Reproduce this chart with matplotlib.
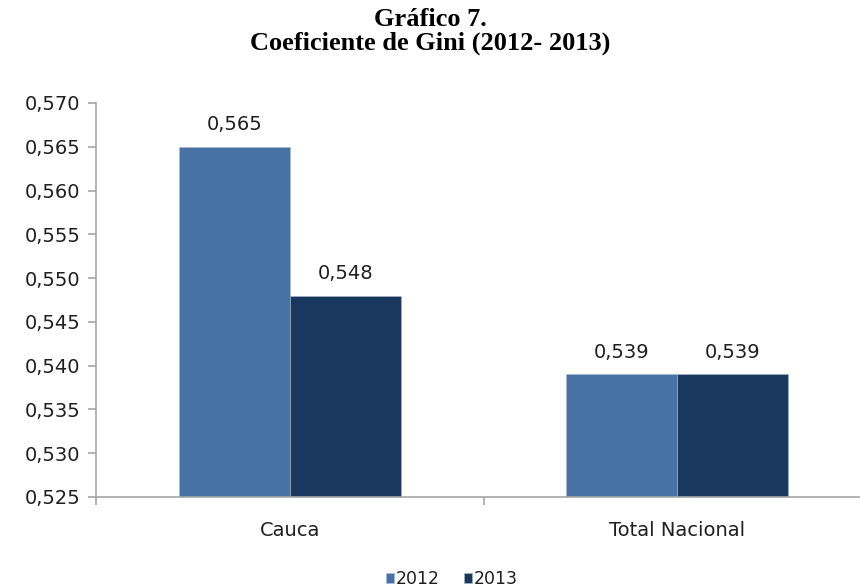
import numpy as np
from matplotlib import pyplot as plt
from matplotlib.patches import Patch

categories = ['Cauca', 'Total Nacional']
years = ['2012', '2013']
gini_2012 = [0.565, 0.539]
gini_2013 = [0.548, 0.539]
y_ticks = [0.525, 0.530, 0.535, 0.540, 0.545, 0.550, 0.555, 0.560, 0.565, 0.570]

colors = ['#4672a5', '#1a375e']
font = 'DejaVu Sans'
txt_color = '#1f1f1f'


def coma(v):
    return f'{v:.3f}'.replace('.', ',')


fig = plt.figure(figsize=(8.6, 5.88), dpi=100)
# plot area: x 96 -> ~871 px (runs a bit past the right edge), y 103 -> 497 px
ax = fig.add_axes([96 / 860, 1 - 497 / 588, 775 / 860, 394 / 588])

x = np.arange(len(categories))
w = 0.286
series = [gini_2012, gini_2013]
for i, vals in enumerate(series):
    pos = x + (i - 0.5) * w
    ax.bar(pos, np.array(vals) - y_ticks[0], bottom=y_ticks[0], width=w,
           color=colors[i], edgecolor='#a9b8cc', linewidth=0.4, zorder=2)
    for px, v in zip(pos, vals):
        ax.text(px, v + 0.0019, coma(v), ha='center', va='baseline',
                fontsize=14, family=font, color=txt_color)

ax.set_xlim(-0.5, len(categories) - 0.5)
ax.set_ylim(y_ticks[0], y_ticks[-1])
ax.set_yticks(y_ticks)
ax.set_yticklabels([coma(t) for t in y_ticks], family=font, fontsize=14, color=txt_color)
ax.set_xticks(x)
ax.set_xticklabels(categories, family=font, fontsize=14, color=txt_color)
ax.tick_params(axis='x', which='major', length=0, pad=17)
ax.set_xticks(np.arange(-0.5, len(categories)), minor=True)
ax.tick_params(axis='x', which='minor', length=6, width=1.2, color='#a6a6a6')
ax.tick_params(axis='y', length=6, width=1.2, color='#a6a6a6', pad=5)

for s in ['top', 'right']:
    ax.spines[s].set_visible(False)
for s in ['left', 'bottom']:
    ax.spines[s].set_color('#a6a6a6')
    ax.spines[s].set_linewidth(1.2)

fig.text(0.5, 1 - 19 / 588, 'Gráfico 7.', ha='center', va='center',
         family='Liberation Serif', fontweight='bold', fontsize=19)
fig.text(0.5, 1 - 43 / 588, 'Coeficiente de Gini (2012- 2013)', ha='center', va='center',
         family='Liberation Serif', fontweight='bold', fontsize=19)

handles = [Patch(facecolor=c, edgecolor='#a9b8cc', linewidth=0.4) for c in colors]
fig.legend(handles, years, loc='center', bbox_to_anchor=(452 / 860, 1 - 579 / 588),
           ncol=2, frameon=False, prop={'family': font, 'size': 12.5},
           handlelength=0.46, handleheight=0.46, handletextpad=0.12,
           columnspacing=1.4, borderpad=0, labelcolor=txt_color)

fig.savefig('out.png', dpi=100)
